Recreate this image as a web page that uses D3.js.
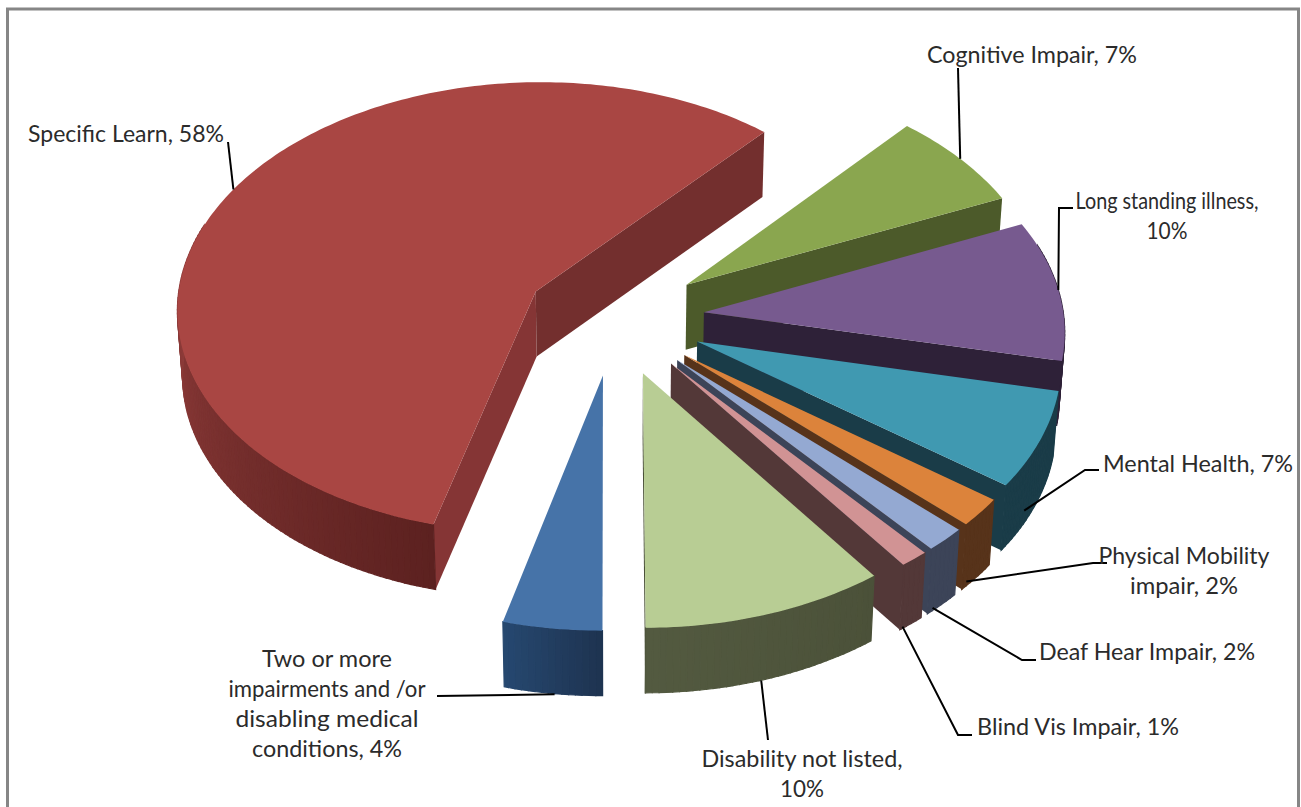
<!DOCTYPE html>
<html><head><meta charset="utf-8">
<style>html,body{margin:0;padding:0;background:#fff}svg{display:block}text{font-family:Lato,"Open Sans",sans-serif;fill:#2b2b2b}</style>
<script src="https://cdn.jsdelivr.net/npm/d3@7/dist/d3.min.js"></script>
</head><body><svg id="c" width="1301" height="807"></svg>
<script>
// ---- data ----
const categories = ["Cognitive Impair","Long standing illness","Mental Health","Physical Mobility impair","Deaf Hear Impair","Blind Vis Impair","Disability not listed","Two or more impairments and /or disabling medical conditions","Specific Learn"];
const values = [7,10,6.8,2,1.7,1.2,10.1,4.1,58];
const topColors = ["#8AA64F","#775A8F","#4099B1","#DC833B","#94A9D2","#D19394","#B8CD94","#4673A8","#A94643"];
const edgeStart = ["#4C5A2A","#2E2138","#1A3C48","#57331A","#3C4458","#533838","#4B5139","#1C3450","#853535"];
const edgeEnd   = ["#4C5A2A","#2E2138","#1A3C48","#57331A","#3C4458","#533838","#4B5139","#1C3450","#732F2E"];
const wallFront = ["#4C5A2A","#2E2138","#1A3C48","#57331A","#3C4458","#533838","#4B5139","#1E3350","#5C2120"];
const wallSide  = ["#4C5A2A","#2E2138","#1A3C48","#57331A","#3C4458","#533838","#535A40","#264870","#8D3B39"];
const labelLines = [["Cognitive Impair, 7%"],["Long standing illness,","10%"],["Mental Health, 7%"],["Physical Mobility","impair, 2%"],["Deaf Hear Impair, 2%"],["Blind Vis Impair, 1%"],["Disability not listed,","10%"],["Two or more","impairments and /or","disabling medical","conditions, 4%"],["Specific Learn, 58%"]];

// ---- layout ----
const W=1301,H=807, cx=614.5, cy=318, R=360, RY=228, persp=0.072, depth=65, explode=0.25, startDeg=41.5, lean=0.012;
const labelAnchor=[[1032,63],[1167,209],[1198,472],[1184,564],[1147,660],[1078,735],[802,767],[327,667],[126,142]];
const labelKnee=[[958,68],[1059,208],[1085,470],[1093,563],[1022,660],[958,735],[768,740],[437,696],[228,142]];
const labelWidths=[[210],[183,41],[190],[171,108],[216],[202],[201,44],[130,197,183,150],[196]];
const lineH=30, fontSize=23;

const svg=d3.select("#c");
svg.append("rect").attr("x",7.5).attr("y",9).attr("width",1291).attr("height",H+20).attr("fill","#fff").attr("stroke","#868686").attr("stroke-width",3);

const arcs=d3.pie().sort(null).startAngle(startDeg*Math.PI/180).endAngle((startDeg+360)*Math.PI/180)(values);
const x0=d3.scaleLinear().domain([-1,1]).range([-R,R]);
const y0=d3.scaleLinear().domain([-1,1]).range([-RY,RY]);
function project(u,v,z){const f=1/(1-persp*v), zz=z||0;return [cx+x0(u)*f*(1-lean*zz/depth), cy+y0(v)*f+zz];}
function rimPoint(d,a,z,r){const m=(d.startAngle+d.endAngle)/2;
  const ou=explode*Math.sin(m), ov=-explode*Math.cos(m), rr=r===undefined?1:r;
  return project(ou+rr*Math.sin(a),ov-rr*Math.cos(a),z);}
const line=d3.line();
const step=Math.PI/180;
const order=arcs.map((d,i)=>({d,i})).sort((p,q)=>{
  const mp=(p.d.startAngle+p.d.endAngle)/2,mq=(q.d.startAngle+q.d.endAngle)/2;return Math.cos(mq)-Math.cos(mp);});
order.forEach(({d,i})=>{
  const g=svg.append("g");
  const a0=d.startAngle,a1=d.endAngle;
  const quad=(a,col)=>g.append("path").attr("d",line([rimPoint(d,a,0,0),rimPoint(d,a,0,1),rimPoint(d,a,depth,1),rimPoint(d,a,depth,0)])+"Z").attr("fill",col);
  if(Math.sin(a0)<0) quad(a0,edgeStart[i]);
  const fromA=Math.max(a0,Math.PI/2),toA=Math.min(a1,Math.PI*1.5);
  const shade=d3.interpolateRgb(wallFront[i],wallSide[i]);
  const angles=d3.range(a0,a1,step).concat([a1]);
  for(let k=0;k<angles.length-1;k++){
    const s=angles[k],e=angles[k+1];
    if(Math.cos((s+e)/2)>0.3) continue;
    const t=toA>fromA?Math.max(0,Math.min(1,((s+e)/2-fromA)/(toA-fromA))):0;
    const col=shade(t);
    g.append("path").attr("d",line([rimPoint(d,s),rimPoint(d,e),rimPoint(d,e,depth),rimPoint(d,s,depth)])+"Z").attr("fill",col).attr("stroke",col).attr("stroke-width",1.2);
  }
  if(Math.sin(a1)>0) quad(a1,edgeEnd[i]);
  const top=[rimPoint(d,0,0,0)].concat(angles.map(a=>rimPoint(d,a)));
  g.append("path").attr("d",line(top)+"Z").attr("fill",topColors[i]);
});
// leaders and labels
arcs.forEach((d,i)=>{
  const m=(d.startAngle+d.endAngle)/2;
  const front=Math.cos(m)<0;
  const start=rimPoint(d,m,front?depth+9:0,front?0.97:1);
  const end=labelKnee[i];
  const tail=[end[0]+((i>=1&&i<=5)?14:0),end[1]];
  svg.append("path").attr("d",line([start,end,tail])).attr("fill","none").attr("stroke","#000").attr("stroke-width",2);
  labelLines[i].forEach((l,j)=>svg.append("text").attr("text-anchor","middle").attr("font-size",fontSize)
    .attr("x",labelAnchor[i][0]).attr("y",labelAnchor[i][1]+j*lineH)
    .attr("textLength",labelWidths[i][j]).attr("lengthAdjust","spacingAndGlyphs").text(l));
});
</script></body></html>
